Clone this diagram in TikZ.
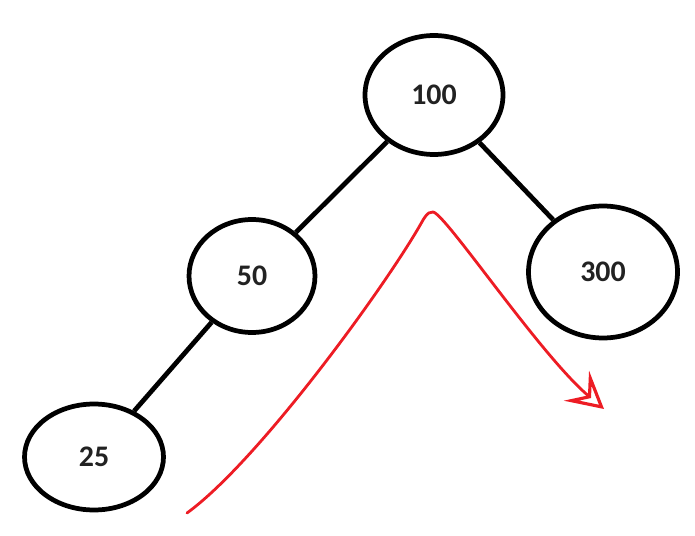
\documentclass[tikz,border=0pt]{standalone}
\usepackage{fontspec}
\setmainfont{Carlito}
\usepackage{tikz}
\usetikzlibrary{arrows.meta, shapes.geometric}
\definecolor{paintred}{RGB}{237,28,36}
\definecolor{inkgray}{RGB}{34,34,34}
\tikzset{
    treenode/.style={ellipse, draw=black, line width=2.7pt, inner sep=0pt, text=inkgray, font=\bfseries\fontsize{17}{20}\selectfont},
    branch/.style={line width=2.7pt, black},
    trail/.style={line width=1.6pt, paintred, line join=round, line cap=round, -{Stealth[open, length=0.72cm, width=0.78cm, inset=0.3cm, line width=1.8pt]}}
}
\begin{document}
\begin{tikzpicture}[x=0.02cm, y=-0.02cm]
    \useasboundingbox (0,0) rectangle (695,536);

    \node[treenode, minimum width=2.76cm, minimum height=2.38cm] (n100) at (434,95) {100};
    \node[treenode, minimum width=2.52cm, minimum height=2.26cm] (n50) at (252,276) {50};
    \node[treenode, minimum width=2.98cm, minimum height=2.64cm] (n300) at (603,272) {300};
    \node[treenode, minimum width=2.78cm, minimum height=2.12cm] (n25) at (94,457) {25};

    \draw[branch] (n100) -- (n50);
    \draw[branch] (n100) -- (n300);
    \draw[branch] (n50) -- (n25);

    % traversal path
    \coordinate (trailstart) at (187,513);
    \coordinate (peak) at (433,212);
    \coordinate (trailend) at (604,409);
    \draw[trail] (trailstart) .. controls (260,460) and (390,280) .. (423,220)
        .. controls (428,212) and (430,212) .. (peak)
        .. controls (445,213) and (540,355) .. (trailend);
\end{tikzpicture}
\end{document}
